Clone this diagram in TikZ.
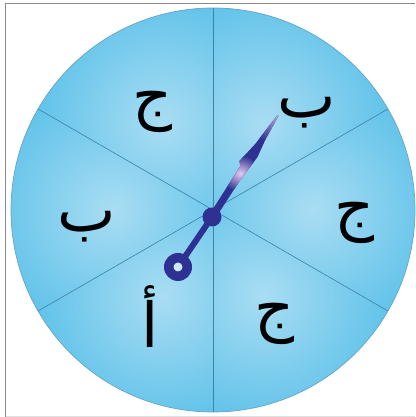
\documentclass[tikz,border=0pt]{standalone}
\usepackage{fontspec}
\newfontfamily\arabicfont[Script=Arabic]{DejaVu Sans}
\TeXXeTstate=1
\usetikzlibrary{calc}
\definecolor{spinbase}{HTML}{62C3EA}
\definecolor{spinlight}{HTML}{A9DDF3}
\definecolor{secline}{HTML}{3F82A6}
\definecolor{rimcol}{HTML}{6AA6C6}
\definecolor{framegray}{HTML}{8A8A8A}
\definecolor{handblue}{HTML}{2E3192}
\definecolor{bladelight}{HTML}{E8C8F0}
\definecolor{tipcol}{HTML}{8E86C2}
\tikzset{
  secstroke/.style={draw=secline, line width=0.6pt},
  rimstroke/.style={draw=rimcol, line width=0.7pt},
  letter/.style={font=\arabicfont\fontsize{62}{70}\selectfont, text=black, inner sep=0pt},
}
\begin{document}
\begin{tikzpicture}[x=1pt,y=1pt]
\useasboundingbox (0,0) rectangle (415,417);
\fill[white] (0,0) rectangle (415,417);
\draw[framegray, line width=1.5pt] (5.5,0) -- (5.5,413.5) -- (415,413.5);
\draw[black!12, line width=0.8pt] (5.5,0.8) -- (415,0.8);
\coordinate (C) at (213,207);
\def\R{202}
\foreach \a in {-30,30,90,150,210,270}{
  \begin{scope}
    \clip (C) -- ($(C)+(\a:\R)$) arc[start angle=\a, end angle=\a+60, radius=\R] -- cycle;
    \fill[spinbase] (C) circle (\R);
    \shade[inner color=spinlight, outer color=spinbase] ($(C)+(\a+30:100)$) circle (125);
  \end{scope}
}
\foreach \a in {-30,30,90,150,210,270}{
  \draw[secstroke] (C) -- ($(C)+(\a:\R)$);
}
\draw[rimstroke] (C) circle (\R);
% letters
\node[letter] (l1) at (153,305) {\beginR ج\endR};
\node[letter] (l2) at (307,304) {\beginR ب\endR};
\node[letter] (l3) at (355,194) {\beginR ج\endR};
\node[letter] (l4) at (275,93) {\beginR ج\endR};
\node[letter] (l5) at (150,100) {\beginR أ\endR};
\node[letter] (l6) at (87,190) {\beginR ب\endR};
% pointer
\coordinate (P) at (212,200);
\coordinate (Rg) at (178,150);
\draw[handblue, line width=6pt] (P) -- (Rg);
\fill[handblue] (Rg) circle (14);
\fill[spinlight!60!white] (Rg) circle (4.5);
\begin{scope}[shift={(P)}, rotate=57]
  \clip (0,3.5) -- (58,4) -- (62,7.5) -- (85,3.5) -- (121,0.7) -- (121,-0.7) -- (95,-2.5) -- (75,-5.5) -- (45,-3.5) -- (0,-3.5) -- cycle;
  \fill[handblue] (-5,-10) rectangle (125,10);
  \shade[inner color=bladelight, outer color=handblue] (52,0) circle (18);
  \shade[inner color=tipcol!70!white, outer color=handblue] (121,0) circle (28);
\end{scope}
\fill[handblue] (P) circle (9.5);
\end{tikzpicture}
\end{document}
